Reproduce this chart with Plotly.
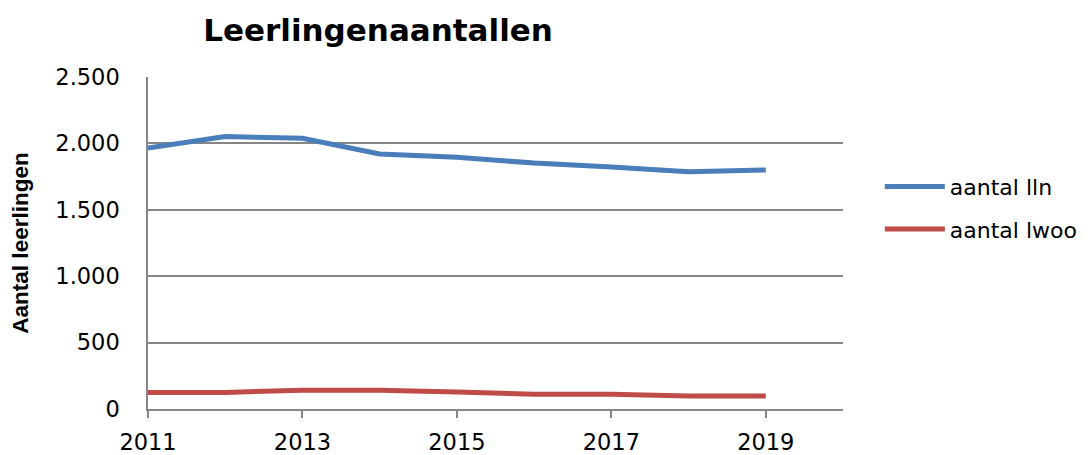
import plotly.graph_objects as go

years = [2011, 2012, 2013, 2014, 2015, 2016, 2017, 2018, 2019]
aantal_lln = [1965, 2052, 2038, 1920, 1895, 1852, 1822, 1787, 1800]
aantal_lwoo = [125, 125, 141, 141, 128, 112, 112, 98, 98]
x_ticks = [2011, 2013, 2015, 2017, 2019]
y_ticks = [0, 500, 1000, 1500, 2000, 2500]

fig = go.Figure()
fig.add_trace(go.Scatter(x=years, y=aantal_lln, mode="lines", name="aantal lln",
                         legendgroup="a",
                         line=dict(color="#4A7EBB", width=5)))
fig.add_trace(go.Scatter(x=years, y=aantal_lwoo, mode="lines", name="aantal lwoo",
                         legendgroup="b",
                         line=dict(color="#BE4B48", width=5)))

fig.update_layout(
    width=1089, height=455,
    paper_bgcolor="white", plot_bgcolor="white",
    margin=dict(l=140, r=254, t=69, b=54, autoexpand=False),
    separators=",.",
    title=dict(text="<b>Leerlingenaantallen</b>", x=0.3398, xanchor="center",
               y=0.952, yanchor="middle",
               font=dict(family="DejaVu Sans", size=31, color="black")),
    font=dict(family="DejaVu Sans", color="black"),
    legend=dict(x=1.053, y=0.605, xanchor="left", yanchor="middle",
                font=dict(family="DejaVu Sans", size=22, color="black"),
                tracegroupgap=11, itemwidth=60, bgcolor="rgba(0,0,0,0)"),
    showlegend=True,
)
fig.update_xaxes(range=[2011, 2020], tickvals=x_ticks, ticks="outside", ticklen=7,
                 tickcolor="#868686", tickwidth=1.5, ticklabelstandoff=5,
                 showline=True, linecolor="#868686", linewidth=1.5,
                 showgrid=False, zeroline=False, automargin=False,
                 tickfont=dict(family="DejaVu Sans", size=22.5, color="black"))
fig.update_yaxes(range=[0, 2500], tickvals=y_ticks, tickformat=",d",
                 showline=True, linecolor="#868686", linewidth=1.5,
                 showgrid=True, gridcolor="#868686", gridwidth=1.5, zeroline=False,
                 ticks="", ticklabelstandoff=22, automargin=False,
                 tickfont=dict(family="DejaVu Sans", size=22.5, color="black"),
                 title=dict(text="<b>Aantal leerlingen</b>", standoff=20,
                            font=dict(family="Liberation Sans", size=22.5, color="black")))

fig.write_html("out.html")
